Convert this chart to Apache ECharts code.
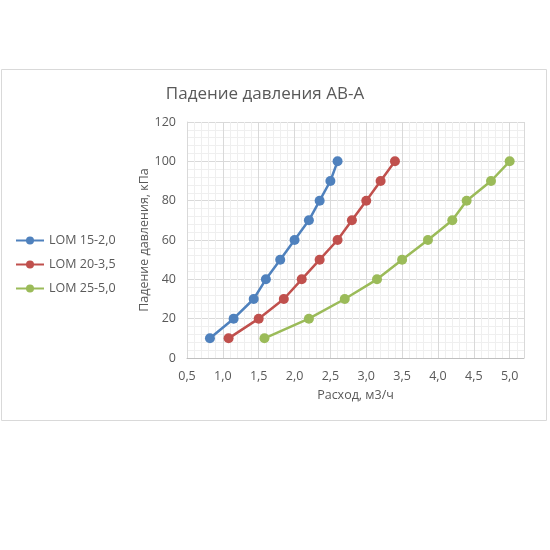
<!DOCTYPE html>
<html>
<head>
<meta charset="utf-8">
<script src="https://cdn.jsdelivr.net/npm/echarts@6/dist/echarts.min.js"></script>
<style>
  html, body { margin: 0; padding: 0; background: #fff; }
  #chart { width: 550px; height: 550px; }
</style>
</head>
<body>
<div id="chart"></div>
<script>
// давление, кПа (общая ось Y для всех серий)
const pressure = [10, 20, 30, 40, 50, 60, 70, 80, 90, 100];
// расход, м3/ч
const flow15 = [0.82, 1.15, 1.43, 1.6, 1.8, 2.0, 2.2, 2.35, 2.5, 2.6];
const flow20 = [1.08, 1.5, 1.85, 2.1, 2.35, 2.6, 2.8, 3.0, 3.2, 3.4];
const flow25 = [1.58, 2.2, 2.7, 3.15, 3.5, 3.86, 4.2, 4.4, 4.74, 5.0];
const seriesNames = ['LOM 15-2,0', 'LOM 20-3,5', 'LOM 25-5,0'];
const colors = ['#4F81BD', '#C0504D', '#9BBB59'];

const txt = '#595959';
const font = 'Open Sans';

function pairs(xs) {
  return xs.map((x, i) => [x, pressure[i]]);
}

const chart = echarts.init(document.getElementById('chart'));
chart.setOption({
  animation: false,
  textStyle: { fontFamily: font },
  graphic: [{
    type: 'rect',
    shape: { x: 1.5, y: 69.5, width: 545, height: 351 },
    style: { fill: 'none', stroke: '#d9d9d9', lineWidth: 1 },
    z: -1
  }],
  title: {
    text: 'Падение давления АВ-А',
    left: 260,
    textAlign: 'center',
    top: 81,
    textStyle: { color: txt, fontSize: 17, fontWeight: 'normal', fontFamily: font }
  },
  legend: {
    orient: 'vertical',
    left: 10,
    top: 229,
    itemWidth: 28,
    itemHeight: 10,
    itemGap: 11,
    textStyle: { color: txt, fontSize: 12.5, fontFamily: font },
    data: seriesNames
  },
  grid: { left: 187, right: 26, top: 122, bottom: 192 },
  xAxis: {
    type: 'value',
    min: 0.5,
    max: 5.2,
    interval: 0.5,
    name: 'Расход, м3/ч',
    nameLocation: 'middle',
    nameGap: 31,
    nameTextStyle: { color: txt, fontSize: 12.5 },
    axisLine: { lineStyle: { color: '#bfbfbf' } },
    axisTick: { show: false },
    axisLabel: {
      color: txt, fontSize: 12.5, margin: 12,
      showMaxLabel: false,
      formatter: v => (Math.abs(v * 2 - Math.round(v * 2)) < 1e-6) ? v.toFixed(1).replace('.', ',') : ''
    },
    splitLine: { show: true, lineStyle: { color: '#d9d9d9' } },
    minorTick: { show: false, splitNumber: 5 },
    minorSplitLine: { show: true, lineStyle: { color: '#efefef' } }
  },
  yAxis: {
    type: 'value',
    min: 0,
    max: 120,
    interval: 20,
    name: 'Падение давления, кПа',
    nameLocation: 'middle',
    nameGap: 36,
    nameMoveOverlap: false,
    nameTextStyle: { color: txt, fontSize: 12.5 },
    axisLine: { show: true, lineStyle: { color: '#d9d9d9' } },
    axisTick: { show: false },
    axisLabel: { color: txt, fontSize: 12.5, margin: 11 },
    splitLine: { show: true, lineStyle: { color: '#d9d9d9' } },
    minorTick: { show: false, splitNumber: 5 },
    minorSplitLine: { show: true, lineStyle: { color: '#efefef' } }
  },
  series: [flow15, flow20, flow25].map((xs, i) => ({
    name: seriesNames[i],
    type: 'line',
    data: pairs(xs),
    color: colors[i],
    symbol: 'circle',
    symbolSize: 10,
    lineStyle: { width: 2.5 }
  }))
});
</script>
</body>
</html>
